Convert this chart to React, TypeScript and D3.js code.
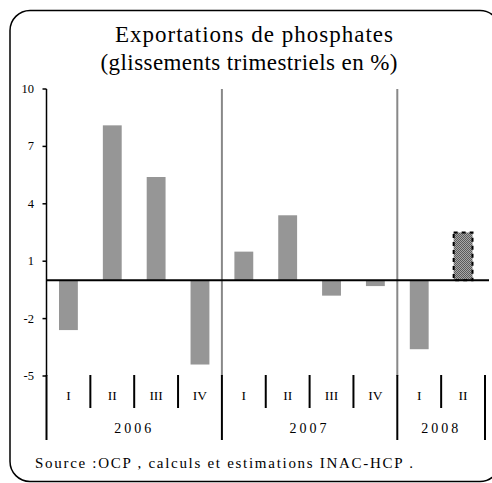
import React from "react";
import * as d3 from "d3";

const years = ["2006", "2007", "2008"];
const quarterLabels = ["I", "II", "III", "IV", "I", "II", "III", "IV", "I", "II"];
const quarterYears = ["2006", "2006", "2006", "2006", "2007", "2007", "2007", "2007", "2008", "2008"];
const values = [-2.6, 8.1, 5.4, -4.4, 1.5, 3.4, -0.8, -0.3, -3.6, 2.5];
const estimated = [false, false, false, false, false, false, false, false, false, true];
const yTicks = [-5, -2, 1, 4, 7, 10];

export default function App() {
  const W = 492, H = 483;
  const x0 = 46.5, x1 = 485;
  const keys = quarterLabels.map((_, i) => String(i));
  const x = d3.scaleBand<string>().domain(keys).range([x0, x1]).padding(0);
  const y = d3.scaleLinear().domain([-5, 10]).range([376, 89]);
  const bw = x.bandwidth() * 0.43;
  const serif = "'Liberation Serif', 'Times New Roman', serif";

  const yearStart = years.map((yr) => quarterYears.indexOf(yr));
  const yearEnd = years.map((yr) => quarterYears.lastIndexOf(yr));

  return (
    <svg width={W} height={H} style={{ position: "absolute", left: 0, top: 0 }}>
      <defs>
        <pattern id="hatch" width="2" height="2" patternUnits="userSpaceOnUse">
          <rect width="2" height="2" fill="#a8a8a8" />
          <rect width="1" height="1" fill="#5a5a5a" />
          <rect x="1" y="1" width="1" height="1" fill="#5a5a5a" />
        </pattern>
      </defs>
      <rect width={W} height={H} fill="#fff" />
      <rect x={10} y={10.5} width={490} height={471} rx={20} ry={20} fill="#fff" stroke="#000" strokeWidth={1.5} />

      <text x={254} y={42} textAnchor="middle" fontFamily={serif} fontSize={23} textLength={278} lengthAdjust="spacing">Exportations de phosphates</text>
      <text x={249} y={70} textAnchor="middle" fontFamily={serif} fontSize={23} textLength={297} lengthAdjust="spacing">(glissements trimestriels en %)</text>

      {yearStart.slice(1).map((s, i) => (
        <line key={"g" + i} x1={x(String(s))!} x2={x(String(s))!} y1={89} y2={376} stroke="#888" strokeWidth={2} />
      ))}

      {values.map((v, i) => {
        const cx = x(String(i))! + x.bandwidth() / 2;
        const top = y(Math.max(0, v));
        const h = Math.abs(y(v) - y(0));
        return estimated[i] ? (
          <rect key={i} x={cx - bw / 2} y={top} width={bw} height={h} fill="url(#hatch)" stroke="#000" strokeWidth={2} strokeDasharray="4,4" />
        ) : (
          <rect key={i} x={cx - bw / 2} y={top} width={bw} height={h} fill="#969696" />
        );
      })}

      <line x1={x0} x2={489} y1={y(0)} y2={y(0)} stroke="#000" strokeWidth={2} />

      <line x1={x0} x2={x0} y1={89} y2={376} stroke="#000" strokeWidth={1.5} />
      {yTicks.map((t) => (
        <g key={t}>
          <line x1={x0 - 4} x2={x0} y1={y(t)} y2={y(t)} stroke="#000" strokeWidth={1.5} />
          <text x={34} y={y(t) + 4} textAnchor="end" fontFamily={serif} fontSize={12.5}>{t}</text>
        </g>
      ))}

      {keys.map((k, i) => {
        const isYear = yearStart.includes(i);
        return (
          <line key={"s" + i} x1={x(k)!} x2={x(k)!} y1={375} y2={isYear ? 440 : 408} stroke="#000" strokeWidth={2} />
        );
      })}
      <line x1={x1} x2={x1} y1={375} y2={440} stroke="#000" strokeWidth={2} />

      {quarterLabels.map((q, i) => (
        <text key={"q" + i} x={x(String(i))! + x.bandwidth() / 2} y={400} textAnchor="middle" fontFamily={serif} fontSize={13.5}>{q}</text>
      ))}

      {years.map((yr, i) => {
        const a = x(String(yearStart[i]))!;
        const b = x(String(yearEnd[i]))! + x.bandwidth();
        return (
          <text key={yr} x={(a + b) / 2} y={433} textAnchor="middle" fontFamily={serif} fontSize={14} letterSpacing={3}>{yr}</text>
        );
      })}

      <text x={35} y={468} fontFamily={serif} fontSize={15} textLength={378} lengthAdjust="spacing">Source :OCP , calculs et estimations INAC-HCP .</text>
    </svg>
  );
}
